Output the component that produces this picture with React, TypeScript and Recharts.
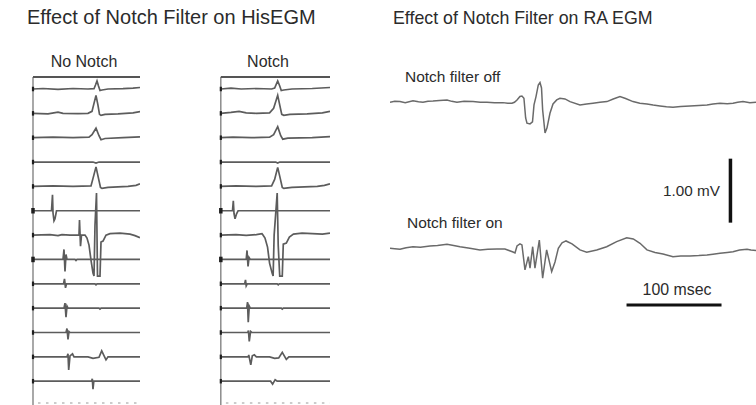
import React from 'react';
import { LineChart, Line, XAxis, YAxis, ReferenceLine } from 'recharts';

type Pt = [number, number];

// ---------- channel names (left panels) ----------
const CHANNELS = ['I', 'II', 'III', 'V1', 'V6', 'HRA', 'HIS', 'CS9', 'CS7', 'CS5', 'CS3', 'CS1', 'RVa'];

// ---------- "No Notch" channels: [time, deflection] ----------
const NN_I: Pt[] = [[0,0],[10,0.5],[25,-0.3],[40,0.5],[55,0],[61,0.3],[62.5,4],[64,8],[65.5,3],[67,-1.5],[69,-1],[75,0],[90,0.3],[100,0.8],[107,1.5]];
const NN_II: Pt[] = [[0,0],[15,-0.5],[25,1.2],[30,0],[45,-0.3],[55,0],[59,2],[61,10],[63,18],[65,8],[66.5,-1],[68,-2],[72,-1],[85,-0.5],[100,0.5],[107,1.8]];
const NN_III: Pt[] = [[0,0],[20,0.5],[40,0],[56,0.5],[59,3],[63,9.5],[66,2],[68,-2],[72,-0.8],[90,0],[107,0.8]];
const NN_V1: Pt[] = [[0,0],[60,0],[63,-1],[66,0],[107,0]];
const NN_V6: Pt[] = [[0,0],[20,0.5],[40,0],[58,0.5],[60,8],[63,19.5],[65.5,8],[67.5,-1],[69,-2],[75,-1],[95,0],[103,1],[107,2.5]];
const NN_HRA: Pt[] = [[0,0],[18.5,0],[19.5,16],[20,-2],[21,-10],[22,-8],[23.5,0],[107,0]];
const NN_HIS: Pt[] = [[0,0],[17,0.5],[25,-0.5],[29,0.5],[37,0],[46,0],[46.5,15],[47.5,-11],[48.5,0],[52,0],[54,-3],[56,-10],[58,-25],[60,-38],[61,-41],[62,10],[63.5,42],[64.5,-41],[67,-41],[68,-7],[70,-6],[73,0],[77,1.5],[87,2],[97,1],[102,-0.5],[107,-2.5]];
const NN_CS9: Pt[] = [[0,0],[30,0],[31,10],[32,-12],[33,5],[34,0],[42,0],[43,-1],[44,0],[107,0]];
const NN_CS7: Pt[] = [[0,0],[30.5,0],[31.5,5],[32.5,-4],[33.5,0],[62,0],[63,-1],[64,0],[107,0]];
const NN_CS5: Pt[] = [[0,0],[31,0],[32,5],[33,-9],[34,2],[35,0],[66,0],[67,-1],[68,0],[107,0]];
const NN_CS3: Pt[] = [[0,0],[33,0],[34,4],[35,-7],[36,1],[37,0],[107,0]];
const NN_CS1: Pt[] = [[0,0],[34,0],[35,3],[35.7,-13],[37,1],[39.5,3],[41,0],[55,0],[60,-1.5],[66,-0.5],[68.7,6],[73,-3],[75,0],[107,0]];
const NN_RV: Pt[] = [[0,0],[58.5,0],[59.3,2.5],[60,-8],[60.8,0],[107,0]];

// ---------- "Notch" channels ----------
const N_I: Pt[] = [[0,0],[10,0.8],[20,0],[35,0.5],[50,0],[53,1],[56,8],[58,3],[59.5,-1.5],[62,-1],[70,0],[90,0.5],[107.5,1.5]];
const N_II: Pt[] = [[0,0],[10,1],[18,2],[25,0.5],[35,0],[48,0.5],[52,5],[56,18],[58.5,6],[60,-1],[62,-2],[68,-1],[85,-0.5],[100,0.5],[107.5,2]];
const N_III: Pt[] = [[0,0],[12,0.5],[30,0],[48,0.5],[52,3],[56,11],[59,2],[61,-1.5],[66,-0.5],[90,0],[107.5,1]];
const N_V1: Pt[] = [[0,0],[54,0],[56,-1],[58,0],[107.5,0]];
const N_V6: Pt[] = [[0,0],[15,0.5],[35,0],[50,0.5],[53,7],[56,19],[58.5,8],[60.5,-1],[62,-2],[70,-1],[95,0],[102,1],[107.5,2.5]];
const N_HRA: Pt[] = [[0,0],[11.5,0],[12.3,10],[13,-3],[14,-8],[15.5,-3],[17,0],[107.5,0]];
const N_HIS: Pt[] = [[0,0],[15,0.5],[25,-0.3],[35,0.5],[40.5,1.5],[41.5,0],[43.5,-3],[46,-12],[48,-28],[50.5,-38],[51.5,-41],[52.5,0],[55.5,42],[56.5,-10],[58,-41],[60.5,-41],[61.5,-9],[64.5,-8],[67.5,-2],[71.5,1],[80,2],[90,1.5],[100,1],[107.5,2]];
const N_CS9: Pt[] = [[0,0],[25,0],[25.8,9],[26.8,-7],[27.8,2],[29,0],[107.5,0]];
const N_CS7: Pt[] = [[0,0],[23.5,0],[24.3,4],[25,-2],[26,0],[55.5,0],[56.5,-1],[57.5,0],[107.5,0]];
const N_CS5: Pt[] = [[0,0],[25.5,0],[26.3,6],[27,-14],[28,2],[29,0],[59.5,0],[60.5,-1],[61.5,0],[107.5,0]];
const N_CS3: Pt[] = [[0,0],[26.5,0],[27.2,2],[28,-9],[29.3,1],[30.5,0],[107.5,0]];
const N_CS1: Pt[] = [[0,0],[27,0],[27.5,2],[29.5,-8],[31,1],[33,2],[35,0],[48,0],[53,-1.5],[57,-1],[60.5,4.5],[64.5,-2.5],[67,0],[107.5,0]];
const N_RV: Pt[] = [[0,0],[49,0],[51,-3],[53.5,1.5],[55.5,0],[107.5,0]];

// ---------- RA EGM traces: [ms, mV] ----------
const RA_OFF: Pt[] = [[0,0],[5,0.014],[10.5,0.01],[16,-0.007],[24.2,0.024],[30,0.007],[34.7,0],[40,0.017],[45.3,0.02],[52,0.029],[60,0.036],[65,0.014],[70.5,0],[78,0.014],[87.4,0.01],[95,0],[102.1,0],[110,-0.007],[118.9,-0.006],[124,-0.014],[128.4,-0.016],[131,0],[133.7,0.036],[136.8,0.091],[138.9,0.098],[141,0.062],[142.8,-0.246],[144.2,-0.328],[147.4,-0.339],[150,-0.308],[151.6,-0.042],[153.7,0.088],[156.1,0.27],[157.9,0.309],[159.5,0.223],[160.7,-0.121],[163.2,-0.48],[165.3,-0.401],[168.4,-0.173],[171.6,-0.026],[175.5,0.036],[178.9,0.062],[184.2,0.052],[189.5,0.01],[200,-0.042],[207,-0.029],[213.7,-0.016],[221,0],[228.4,0.01],[235,0.05],[242.1,0.088],[248,0.058],[255.8,0.01],[263,-0.014],[270.5,-0.026],[277,-0.043],[284.2,-0.058],[291,-0.072],[297.9,-0.078],[306,-0.065],[315.8,-0.058],[325,-0.05],[333.7,-0.042],[340,-0.029],[347.4,-0.016],[355,-0.022],[361.1,-0.016],[366,0],[371.6,0.01],[378.9,-0.006],[385.3,0]];
const RA_ON: Pt[] = [[0,0],[5,-0.007],[10.5,-0.016],[17,0.007],[24.2,0.024],[32,0.014],[42.1,0.036],[50,0.043],[60,0.062],[67,0.043],[73.7,0.024],[84,0],[94.7,-0.026],[103,-0.017],[112.6,-0.012],[121,-0.012],[129.5,-0.058],[131.6,-0.073],[133.7,0.036],[136.8,0.068],[138.9,0.052],[142.1,-0.339],[145.6,-0.131],[147.4,-0.312],[150.2,0.024],[152.6,-0.312],[157.2,0.129],[160.7,-0.469],[164.9,-0.026],[170.2,-0.365],[173.7,-0.214],[177.2,0],[181.1,0.083],[185.3,0.114],[191.6,0.068],[200,-0.026],[207.1,-0.062],[217.6,-0.026],[228.1,0.024],[238.6,0.104],[249.2,0.165],[256.1,0.145],[263.2,0.078],[270.5,-0.026],[279,-0.065],[287.4,-0.089],[297.9,-0.131],[306,-0.122],[315.8,-0.121],[325,-0.115],[333.7,-0.105],[340,-0.093],[347.4,-0.078],[355,-0.065],[361.1,-0.053],[368,-0.029],[375.8,-0.016],[380,-0.029],[385.3,-0.037]];

const NO_NOTCH_CHANNELS = [NN_I, NN_II, NN_III, NN_V1, NN_V6, NN_HRA, NN_HIS, NN_CS9, NN_CS7, NN_CS5, NN_CS3, NN_CS1, NN_RV];
const NOTCH_CHANNELS = [N_I, N_II, N_III, N_V1, N_V6, N_HRA, N_HIS, N_CS9, N_CS7, N_CS5, N_CS3, N_CS1, N_RV];

const TOP_TICKS = [8, 16, 24, 32, 40, 48, 56, 64, 72, 80, 88, 96, 104];

// ---------- layout constants ----------
const ROW0 = 12;
const ROW_GAP = 24.35;
const FONT = 'Liberation Sans, Arial, Helvetica, sans-serif';
const TRACE = '#6a6a6a';
const EGM_TRACE = '#5c5c5c';

const baselines = CHANNELS.map((_, i) => -(ROW0 + ROW_GAP * i));

const toSeries = (pts: Pt[], base: number) => pts.map(([t, d]) => ({ t, v: base + d }));

const startDot = (big: boolean) => (p: any) => {
  if (p.index !== 0) return <g key={`n${p.index}`} />;
  const w = big ? 3.5 : 2.2;
  const h = big ? 5.5 : 4.5;
  return <rect key={`d${p.index}`} x={p.cx - w / 2} y={p.cy - h / 2} width={w} height={h} fill="#1e1e1e" />;
};

function EgmPanel({ channels, left, domainMin, domainMax }: { channels: Pt[][]; left: number; domainMin: number; domainMax: number }) {
  return (
    <div style={{ position: 'absolute', left, top: 0 }}>
      <LineChart width={150} height={405} margin={{ top: 77, right: 10, bottom: 0, left: 10 }}>
        <XAxis
          type="number"
          dataKey="t"
          orientation="top"
          height={0}
          domain={[domainMin, domainMax]}
          allowDataOverflow
          ticks={TOP_TICKS}
          tick={false}
          mirror
          tickSize={2.5}
          axisLine={{ stroke: '#9a9a9a', strokeWidth: 1 }}
          tickLine={{ stroke: '#8a8a8a', strokeWidth: 1 }}
        />
        <YAxis
          type="number"
          width={0}
          domain={[-328, 0]}
          allowDataOverflow
          ticks={baselines}
          interval={0}
          mirror
          axisLine={false}
          tickLine={false}
          tickSize={0}
          tickMargin={2}
          tickFormatter={(_v: number, i: number) => CHANNELS[i] ?? ''}
          tick={{ fontSize: 4, fill: '#9a9a9a', fontFamily: FONT }}
        />
        <ReferenceLine x={0} stroke="#7a7a7a" strokeWidth={1.3} />
        <ReferenceLine segment={[{ x: 0, y: 0 }, { x: domainMax, y: 0 }]} stroke="#555" strokeWidth={2.2} />
        <ReferenceLine segment={[{ x: 5, y: -326 }, { x: domainMax, y: -326 }]} stroke="#999" strokeWidth={1} strokeDasharray="2.5 5.5" />
        {channels.map((pts, i) => (
          <Line
            key={CHANNELS[i]}
            data={toSeries(pts, baselines[i])}
            dataKey="v"
            type="linear"
            stroke={EGM_TRACE}
            strokeWidth={1.7}
            dot={startDot(i === 5 || i === 7)}
            activeDot={false}
            isAnimationActive={false}
          />
        ))}
      </LineChart>
    </div>
  );
}

const OFF_BASE = -1.598;
const ON_BASE = -3.88;

function RaPanel() {
  return (
    <div style={{ position: 'absolute', left: 0, top: 0 }}>
      <LineChart width={756} height={405} margin={{ top: 0, right: 0, bottom: 0, left: 390 }}>
        <XAxis type="number" dataKey="t" hide height={0} domain={[0, 385.3]} allowDataOverflow />
        <YAxis type="number" hide width={0} domain={[-6.33, 0]} allowDataOverflow />
        <Line data={toSeries(RA_OFF, OFF_BASE)} dataKey="v" stroke={TRACE} strokeWidth={1.5} dot={false} activeDot={false} isAnimationActive={false} />
        <Line data={toSeries(RA_ON, ON_BASE)} dataKey="v" stroke={TRACE} strokeWidth={1.5} dot={false} activeDot={false} isAnimationActive={false} />
        <ReferenceLine segment={[{ x: 358.4, y: -2.48 }, { x: 358.4, y: -3.48 }]} stroke="#111" strokeWidth={3.5} />
        <ReferenceLine segment={[{ x: 249, y: -4.766 }, { x: 349, y: -4.766 }]} stroke="#111" strokeWidth={3} />
      </LineChart>
    </div>
  );
}

export default function App() {
  const txt = { fontFamily: FONT, fill: '#2b2b2b' } as const;
  return (
    <div style={{ position: 'fixed', left: 0, top: 0, width: 756, height: 405, background: '#fff', overflow: 'hidden' }}>
      <EgmPanel channels={NO_NOTCH_CHANNELS} left={0} domainMin={-23} domainMax={107} />
      <EgmPanel channels={NOTCH_CHANNELS} left={190} domainMin={-20.5} domainMax={107.5} />
      <RaPanel />
      <svg width={756} height={405} style={{ position: 'absolute', left: 0, top: 0, pointerEvents: 'none' }}>
        <text x={27} y={24} fontSize={20} {...txt}>Effect of Notch Filter on HisEGM</text>
        <text x={393} y={24} fontSize={17.8} {...txt}>Effect of Notch Filter on RA EGM</text>
        <text x={84} y={67} fontSize={16} textAnchor="middle" {...txt}>No Notch</text>
        <text x={268} y={67} fontSize={16} textAnchor="middle" {...txt}>Notch</text>
        <text x={405} y={81.5} fontSize={15.5} {...txt}>Notch filter off</text>
        <text x={407} y={228} fontSize={15.5} {...txt}>Notch filter on</text>
        <text x={720} y={196} fontSize={15.3} textAnchor="end" {...txt}>1.00 mV</text>
        <text x={677} y={295} fontSize={15.9} textAnchor="middle" {...txt}>100 msec</text>
      </svg>
    </div>
  );
}
